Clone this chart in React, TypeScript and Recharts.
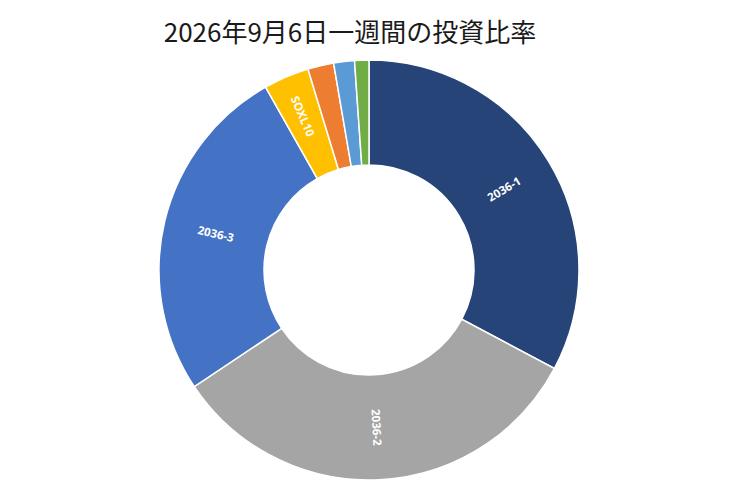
import React from 'react';
import { PieChart, Pie, Cell } from 'recharts';

const TITLE = '2026年9月6日一週間の投資比率';

const categories = ['2036-1', '2036-2', '2036-3', 'SOXL10', '銘柄5', '銘柄6', '銘柄7'];
const ratios = [32.8, 32.9, 26.2, 3.5, 2.0, 1.6, 1.1];
const COLORS = ['#264478', '#A5A5A5', '#4472C4', '#FFC000', '#ED7D31', '#5B9BD5', '#70AD47'];

const data = categories.map((name, i) => ({ name, value: ratios[i] }));

const RAD = Math.PI / 180;

const renderLabel = (props: any) => {
  const { cx, cy, midAngle, innerRadius, outerRadius, percent, name } = props;
  if (percent < 0.03) return null;
  const r = (innerRadius + outerRadius) / 2 + (percent < 0.1 ? 10 : 0);
  const x = cx + r * Math.cos(-midAngle * RAD);
  const y = cy + r * Math.sin(-midAngle * RAD);
  // radial text, flipped so it never reads upside down
  let rot = -midAngle;
  while (rot > 90) rot -= 180;
  while (rot < -90) rot += 180;
  return (
    <text
      x={x}
      y={y}
      fill="#ffffff"
      fontSize={11.5}
      fontWeight={700}
      fontFamily="'Open Sans', sans-serif"
      textAnchor="middle"
      dominantBaseline="central"
      transform={`rotate(${rot}, ${x}, ${y})`}
    >
      {name}
    </text>
  );
};

const App: React.FC = () => {
  return (
    <div style={{ position: 'absolute', left: 0, top: 0, width: 740, height: 493, background: '#fff' }}>
      <div
        style={{
          position: 'absolute',
          left: 0,
          top: 13,
          width: 700,
          textAlign: 'center',
          fontFamily: "'Noto Sans CJK JP', sans-serif",
          fontSize: 26,
          color: '#1a1a1a',
          lineHeight: '36px',
        }}
      >
        {TITLE}
      </div>
      <PieChart width={740} height={493}>
        <Pie
          data={data}
          dataKey="value"
          nameKey="name"
          cx={364}
          cy={265}
          innerRadius={105}
          outerRadius={210}
          startAngle={90}
          endAngle={-270}
          stroke="#ffffff"
          strokeWidth={1.5}
          label={renderLabel}
          labelLine={false}
          isAnimationActive={false}
        >
          {data.map((_, index) => (
            <Cell key={`cell-${index}`} fill={COLORS[index % COLORS.length]} />
          ))}
        </Pie>
      </PieChart>
    </div>
  );
};

export default App;
